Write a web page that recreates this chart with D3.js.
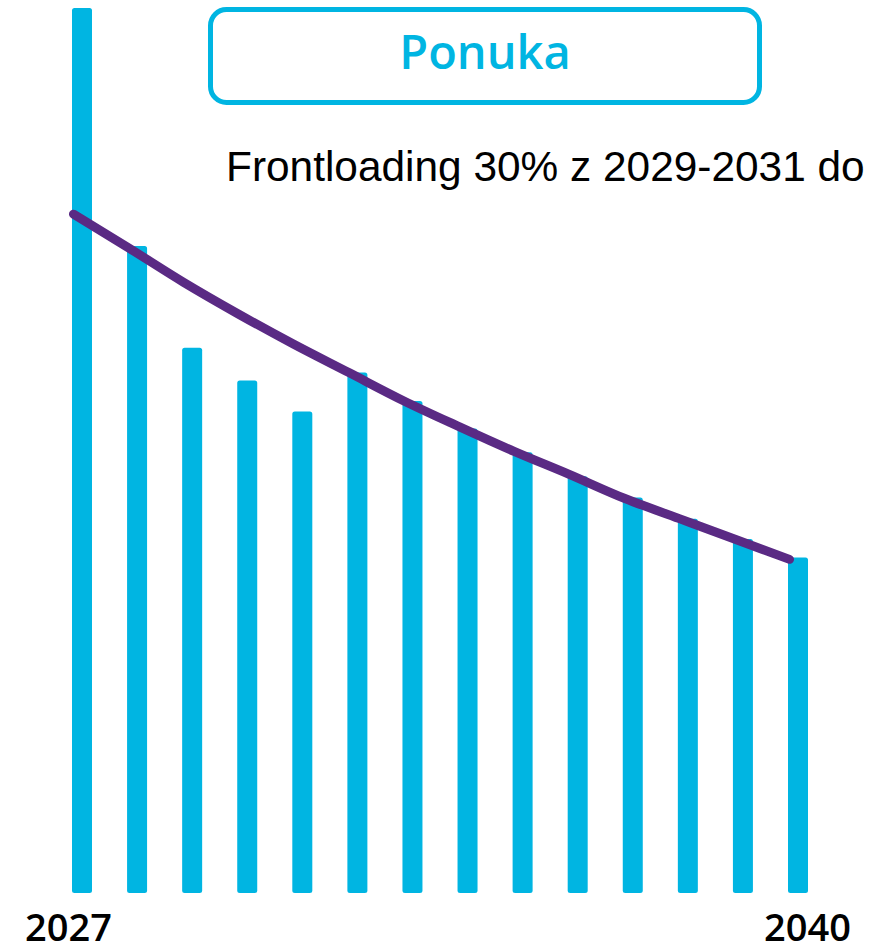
<!DOCTYPE html>
<html>
<head>
<meta charset="utf-8">
<script src="https://cdn.jsdelivr.net/npm/d3@7"></script>
<style>
  html, body { margin: 0; padding: 0; background: #fff; overflow: hidden; }
  svg { display: block; }
</style>
</head>
<body>
<div id="chart"></div>
<script>
// Years shown on the x axis.
var years = [2027, 2028, 2029, 2030, 2031, 2032, 2033, 2034, 2035, 2036, 2037, 2038, 2039, 2040];

// Supply bars (index, first year = 100).
var supply = [100, 73.1, 61.6, 57.9, 54.4, 58.8, 55.6, 52.5, 49.8, 47.1, 44.7, 42.3, 40.0, 37.9];

// Trend line without frontloading.
var trend = [76.7, 72.9, 69.0, 65.4, 62.0, 58.8, 55.6, 52.7, 49.9, 47.3, 44.6, 42.3, 40.0, 37.7];

// Labels.
var edgeLabels = ['2027', '2040'];
var boxTitle = 'Ponuka';
var note = 'Frontloading 30% z 2029-2031 do';

var width = 879;
var height = 949;

var barColor = '#00b5e2';
var lineColor = '#5a2a84';

var svg = d3.select('#chart')
    .append('svg')
    .attr('width', width)
    .attr('height', height);

// Scales.
var x = d3.scalePoint()
    .domain(years)
    .range([82, 798]);

var y = d3.scaleLinear()
    .domain([0, 100])
    .range([893, 8]);

var barWidth = 20;
var lineShift = -8.5; // line sits a little left of bar centres

// Bars.
svg.append('g')
    .selectAll('rect')
    .data(years)
    .enter()
    .append('rect')
    .attr('x', d => x(d) - barWidth / 2)
    .attr('y', (d, i) => y(supply[i]))
    .attr('width', barWidth)
    .attr('height', (d, i) => y(0) - y(supply[i]))
    .attr('rx', 2.5)
    .attr('fill', barColor);

// Trend line.
var line = d3.line()
    .x(d => x(d) + lineShift)
    .y((d, i) => y(trend[i]))
    .curve(d3.curveMonotoneX);

svg.append('path')
    .datum(years)
    .attr('d', line)
    .attr('fill', 'none')
    .attr('stroke', lineColor)
    .attr('stroke-width', 9)
    .attr('stroke-linecap', 'round')
    .attr('stroke-linejoin', 'round');

// Title box.
svg.append('rect')
    .attr('x', 210.5)
    .attr('y', 9.5)
    .attr('width', 549)
    .attr('height', 93)
    .attr('rx', 16)
    .attr('fill', '#fff')
    .attr('stroke', barColor)
    .attr('stroke-width', 5);

svg.append('text')
    .attr('x', 485)
    .attr('y', 69)
    .attr('text-anchor', 'middle')
    .attr('font-family', '"Open Sans", sans-serif')
    .attr('font-weight', 600)
    .attr('font-size', 47)
    .attr('fill', barColor)
    .text(boxTitle);

// Note text.
svg.append('text')
    .attr('x', 226)
    .attr('y', 181)
    .attr('font-family', '"Liberation Sans", Arial, sans-serif')
    .attr('font-size', 42.4)
    .attr('fill', '#000')
    .text(note);

// Edge year labels.
svg.append('text')
    .attr('x', x(years[0]) - 57)
    .attr('y', 941)
    .attr('font-family', '"Open Sans", sans-serif')
    .attr('font-weight', 600)
    .attr('font-size', 38)
    .attr('fill', '#000')
    .text(edgeLabels[0]);

svg.append('text')
    .attr('x', x(years[years.length - 1]) + 53)
    .attr('y', 941)
    .attr('text-anchor', 'end')
    .attr('font-family', '"Open Sans", sans-serif')
    .attr('font-weight', 600)
    .attr('font-size', 38)
    .attr('fill', '#000')
    .text(edgeLabels[1]);
</script>
</body>
</html>
